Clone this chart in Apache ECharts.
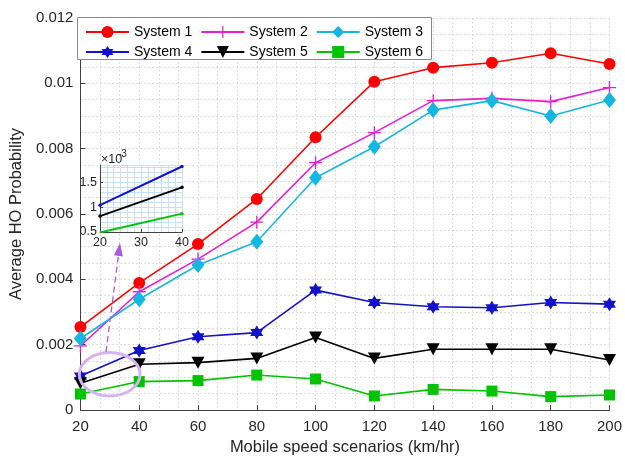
<!DOCTYPE html>
<html>
<head>
<meta charset="utf-8">
<title>Average HO Probability</title>
<script src="https://cdn.jsdelivr.net/npm/echarts@6/dist/echarts.min.js"></script>
<style>
  html, body { margin: 0; padding: 0; background: #ffffff; }
  #chart { width: 625px; height: 464px; }
</style>
</head>
<body>
<div id="chart"></div>
<script>
// Mobile speed scenarios (km/hr)
const speeds = [20, 40, 60, 80, 100, 120, 140, 160, 180, 200];

// Average handover probability per system
const system1 = [0.00254, 0.00389, 0.00508, 0.00646, 0.00835, 0.01005, 0.01048, 0.01063, 0.01092, 0.01059];
const system2 = [0.00196, 0.00362, 0.00462, 0.00575, 0.00757, 0.00849, 0.00947, 0.00954, 0.00944, 0.00987];
const system3 = [0.00219, 0.00339, 0.00444, 0.00515, 0.00711, 0.00806, 0.00918, 0.00947, 0.00900, 0.00949];
const system4 = [0.00104, 0.00182, 0.00224, 0.00237, 0.00367, 0.00329, 0.00316, 0.00313, 0.00329, 0.00324];
const system5 = [0.00082, 0.00140, 0.00145, 0.00158, 0.00222, 0.00158, 0.00186, 0.00186, 0.00186, 0.00153];
const system6 = [0.00049, 0.00087, 0.00090, 0.00107, 0.00095, 0.00043, 0.00063, 0.00058, 0.00041, 0.00046];

const seriesNames = ['System 1', 'System 2', 'System 3', 'System 4', 'System 5', 'System 6'];
const yTicks = [0, 0.002, 0.004, 0.006, 0.008, 0.01, 0.012];
const insetSpeeds = [20, 40];

const FONT = '"Liberation Sans", Arial, Helvetica, sans-serif';
const TEXT = '#262626';
const AXIS = '#404040';

// marker shapes
const plusPath = 'path://M5.4,0H6.6V12H5.4ZM0,5.4H12V6.6H0Z';
const hexagramPath = 'path://M0,-10L2.887,-5L8.66,-5L5.774,0L8.66,5L2.887,5L0,10L-2.887,5L-8.66,5L-5.774,0L-8.66,-5L-2.887,-5Z';

const styles = [
  { color: '#ff0000', symbol: 'circle', size: 12, rotate: 0 },
  { color: '#e61ed2', symbol: plusPath, size: 13, rotate: 0 },
  { color: '#14b6e2', symbol: 'diamond', size: [13, 16], rotate: 0 },
  { color: '#1212cc', symbol: hexagramPath, size: [13, 14], rotate: 0 },
  { color: '#000000', symbol: 'triangle', size: [13, 12], rotate: 180 },
  { color: '#00c400', symbol: 'rect', size: 11, rotate: 0 }
];
const values = [system1, system2, system3, system4, system5, system6];

const mainSeries = values.map((vals, i) => ({
  name: seriesNames[i],
  type: 'line',
  xAxisIndex: 0,
  yAxisIndex: 0,
  data: speeds.map((s, k) => [s, vals[k]]),
  symbol: styles[i].symbol,
  symbolSize: styles[i].size,
  symbolRotate: styles[i].rotate,
  showAllSymbol: true,
  color: styles[i].color,
  lineStyle: { width: 1.6, color: styles[i].color },
  itemStyle: { color: styles[i].color, borderWidth: 0 },
  emphasis: { disabled: true },
  animation: false,
  z: 2
}));

// zoomed view of systems 4-6 between 20 and 40 km/hr (values scaled by 1e3)
const insetSeries = [3, 4, 5].map(i => ({
  name: 'zoom ' + seriesNames[i],
  type: 'line',
  xAxisIndex: 1,
  yAxisIndex: 1,
  data: insetSpeeds.map((s, k) => [s, values[i][k] * 1000]),
  symbol: 'circle',
  symbolSize: 3.5,
  showAllSymbol: true,
  color: styles[i].color,
  lineStyle: { width: 2, color: styles[i].color },
  itemStyle: { color: styles[i].color },
  emphasis: { disabled: true },
  animation: false,
  z: 6
}));

const dotted = { color: '#d2d2d2', width: 1, type: [1.5, 2.5] };
const insetGridLine = { color: '#c6e1f7', width: 1, type: 'solid' };

const legendCommon = {
  left: 85,
  orient: 'horizontal',
  padding: 0,
  itemWidth: 43,
  itemHeight: 15,
  itemGap: 8,
  selectedMode: false,
  textStyle: { fontFamily: FONT, fontSize: 14, color: '#000000' },
  z: 5
};

const option = {
  backgroundColor: '#ffffff',
  animation: false,
  textStyle: { fontFamily: FONT },
  grid: [
    { left: 77, right: 13, top: 18, bottom: 54, containLabel: false },
    { left: 100, right: 443, top: 165, bottom: 232, show: true, backgroundColor: '#ffffff', borderWidth: 0, z: 3 }
  ],
  legend: [
    Object.assign({}, legendCommon, { top: 25, data: seriesNames.slice(0, 3) }),
    Object.assign({}, legendCommon, { top: 45, data: seriesNames.slice(3, 6) })
  ],
  xAxis: [
    {
      type: 'value', gridIndex: 0, min: 20, max: 200, interval: 20,
      name: 'Mobile speed scenarios (km/hr)', nameLocation: 'middle', nameGap: 29,
      nameTextStyle: { fontFamily: FONT, fontSize: 16.5, color: TEXT },
      axisLine: { show: true, onZero: false, lineStyle: { color: AXIS, width: 1 } },
      axisTick: { show: true, inside: true, length: 5, lineStyle: { color: AXIS } },
      axisLabel: { fontFamily: FONT, fontSize: 15, color: TEXT, margin: 9 },
      splitLine: { show: true, lineStyle: dotted },
      minorTick: { show: false, splitNumber: 3 },
      minorSplitLine: { show: true, lineStyle: dotted }
    },
    {
      type: 'value', gridIndex: 1, min: 20, max: 40, interval: 10,
      axisLine: { show: true, onZero: false, lineStyle: { color: AXIS, width: 1 } },
      axisTick: { show: true, inside: true, length: 3, lineStyle: { color: AXIS } },
      axisLabel: { fontFamily: FONT, fontSize: 12.5, color: TEXT, margin: 4 },
      splitLine: { show: true, lineStyle: insetGridLine },
      minorTick: { show: false, splitNumber: 6 },
      minorSplitLine: { show: true, lineStyle: insetGridLine },
      z: 4
    }
  ],
  yAxis: [
    {
      type: 'value', gridIndex: 0, min: yTicks[0], max: yTicks[yTicks.length - 1], interval: 0.002,
      name: 'Average HO Probability', nameLocation: 'middle', nameGap: 51,
      nameTextStyle: { fontFamily: FONT, fontSize: 16.5, color: TEXT },
      axisLine: { show: true, onZero: false, lineStyle: { color: AXIS, width: 1 } },
      axisTick: { show: true, inside: true, length: 5, lineStyle: { color: AXIS } },
      axisLabel: {
        fontFamily: FONT, fontSize: 15, color: TEXT, margin: 7,
        formatter: v => String(+Number(v).toFixed(3))
      },
      splitLine: { show: true, lineStyle: dotted },
      minorTick: { show: false, splitNumber: 4 },
      minorSplitLine: { show: true, lineStyle: dotted }
    },
    {
      type: 'value', gridIndex: 1, min: 0.5, max: 1.85, interval: 0.5,
      axisLine: { show: true, onZero: false, lineStyle: { color: AXIS, width: 1 } },
      axisTick: { show: true, inside: true, length: 3, lineStyle: { color: AXIS } },
      axisLabel: {
        fontFamily: FONT, fontSize: 12.5, color: TEXT, margin: 3, showMaxLabel: false,
        formatter: v => String(+Number(v).toFixed(1))
      },
      splitLine: { show: true, lineStyle: insetGridLine },
      minorTick: { show: false, splitNumber: 5 },
      minorSplitLine: { show: true, lineStyle: insetGridLine },
      z: 4
    }
  ],
  series: mainSeries.concat(insetSeries)
};

const chart = echarts.init(document.getElementById('chart'), null, { renderer: 'canvas' });
chart.setOption(option);

// legend frame, exponent label of the zoomed view, highlight ellipse and pointer arrow
const tip = [120, 243];
const tail = [106, 352];
const dx = tip[0] - tail[0], dy = tip[1] - tail[1];
const len = Math.sqrt(dx * dx + dy * dy);
const ux = dx / len, uy = dy / len;
const headLen = 13, headHalf = 4.5;
const base = [tip[0] - ux * headLen, tip[1] - uy * headLen];

chart.setOption({
  graphic: [
    {
      type: 'rect', z: 3, silent: true,
      shape: { x: 77.5, y: 17.5, width: 354, height: 42 },
      style: { fill: '#ffffff', stroke: '#8a8a8a', lineWidth: 1 }
    },
    {
      type: 'text', z: 6, silent: true,
      style: { x: 101, y: 160, text: '\u00d710', font: '12.5px ' + FONT, fill: TEXT, verticalAlign: 'middle', align: 'left' }
    },
    {
      type: 'text', z: 6, silent: true,
      style: { x: 118, y: 154, text: '-3', font: '10px ' + FONT, fill: TEXT, verticalAlign: 'middle', align: 'left' }
    },
    {
      type: 'ellipse', z: 7, silent: true,
      shape: { cx: 109.7, cy: 374.3, rx: 30.4, ry: 21.7 },
      style: { fill: 'none', stroke: '#d6b4f2', lineWidth: 3 }
    },
    {
      type: 'line', z: 7, silent: true,
      shape: { x1: tail[0], y1: tail[1], x2: base[0], y2: base[1] },
      style: { stroke: '#a85ae2', lineWidth: 1.3, lineDash: [6, 4] }
    },
    {
      type: 'polygon', z: 7, silent: true,
      shape: {
        points: [
          tip,
          [base[0] - uy * headHalf, base[1] + ux * headHalf],
          [base[0] + uy * headHalf, base[1] - ux * headHalf]
        ]
      },
      style: { fill: '#a85ae2' }
    }
  ]
});
</script>
</body>
</html>
